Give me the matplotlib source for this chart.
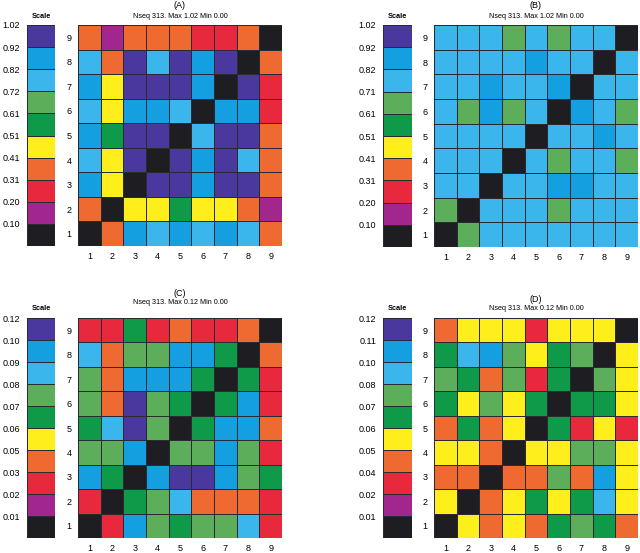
import numpy as np
import matplotlib
matplotlib.use("Agg")
import matplotlib.pyplot as plt
from matplotlib.colors import ListedColormap, BoundaryNorm

plt.rcParams['font.family'] = ['Liberation Sans', 'DejaVu Sans']

# colour levels: 0 black .. 9 indigo (lowest to highest)
level_colors = ['#1e1e22', '#a1268e', '#e8293d', '#ee6a30', '#fdee1c',
                '#0e9a48', '#5dae5a', '#3ab6ec', '#139fe0', '#4a389e']
K, M, R, O, Y, G, L, S, B, P = range(10)

# rows listed from top (9) to bottom (1), columns 1..9
grid_A = [
    [O, M, O, O, O, R, R, O, K],
    [S, O, P, S, P, B, P, K, O],
    [B, Y, P, P, P, B, K, P, R],
    [S, Y, B, B, S, K, B, B, R],
    [B, G, P, P, K, S, P, P, O],
    [S, Y, P, K, P, B, P, S, O],
    [B, Y, K, P, P, B, P, P, O],
    [O, K, Y, Y, G, Y, Y, O, M],
    [K, O, B, S, B, S, B, S, O],
]
grid_B = [
    [S, S, S, L, S, L, S, S, K],
    [S, S, S, S, B, S, S, K, S],
    [S, S, B, S, S, B, K, S, S],
    [S, L, B, L, S, K, B, S, L],
    [S, S, S, S, K, S, S, B, S],
    [S, S, S, K, S, L, S, S, L],
    [S, S, K, S, S, B, B, S, S],
    [L, K, S, S, S, L, S, S, S],
    [K, L, S, S, S, S, S, S, S],
]
grid_C = [
    [R, R, G, R, O, R, R, O, K],
    [S, O, L, L, B, B, G, K, O],
    [L, O, B, B, B, G, K, G, R],
    [L, O, P, L, G, K, G, B, R],
    [G, S, P, L, K, G, B, B, O],
    [L, L, B, K, L, L, B, L, R],
    [B, G, K, B, P, P, B, L, G],
    [R, K, G, L, S, O, O, O, R],
    [K, R, B, L, G, L, L, S, R],
]
grid_D = [
    [O, Y, Y, Y, R, Y, Y, Y, K],
    [G, S, B, L, Y, G, L, K, Y],
    [L, G, O, L, R, G, K, L, Y],
    [G, Y, L, Y, G, K, G, G, Y],
    [O, G, O, Y, K, G, R, Y, R],
    [Y, Y, O, K, Y, Y, L, L, Y],
    [O, O, K, O, O, L, O, B, Y],
    [Y, K, O, Y, G, Y, G, S, Y],
    [K, Y, O, Y, O, G, L, G, O],
]

# scale labels, bottom (black box top) to top
scale_A = ['0.10', '0.20', '0.31', '0.41', '0.51', '0.61', '0.72', '0.82', '0.92', '1.02']
scale_B = ['0.10', '0.20', '0.31', '0.41', '0.51', '0.61', '0.71', '0.82', '0.92', '1.02']
scale_C = ['0.01', '0.02', '0.03', '0.05', '0.06', '0.07', '0.08', '0.09', '0.10', '0.12']
scale_D = ['0.01', '0.02', '0.04', '0.05', '0.06', '0.07', '0.08', '0.10', '0.11', '0.12']

panel_letters = ['(A)', '(B)', '(C)', '(D)']
subtitles = ['Nseq 313. Max 1.02 Min 0.00', 'Nseq 313. Max 1.02 Min 0.00',
             'Nseq 313. Max 0.12 Min 0.00', 'Nseq 313. Max 0.12 Min 0.00']
tick_labels = [str(i) for i in range(1, 10)]

W, H = 640, 553
fig = plt.figure(figsize=(W / 100, H / 100), dpi=100)
fig.patch.set_facecolor('white')

cmap = ListedColormap(level_colors)
norm = BoundaryNorm(np.arange(-0.5, 10.5, 1), cmap.N)
edge = '#2a2a33'


def fx(px):
    return px / W


def fy(py):
    return 1 - py / H


# pixel layout: (scale x0, x1, grid x0, x1, top, bottom, letter y, subtitle y, scale-title y)
layouts = [
    (27, 55, 78, 282, 25, 246, 6, 17, 17),
    (383, 412, 434, 638, 25, 247, 6, 17, 17),
    (27, 55, 78, 282, 318, 538, 294, 303, 309),
    (383, 412, 434, 638, 318, 538, 299, 309, 309),
]
grids = [grid_A, grid_B, grid_C, grid_D]
scales = [scale_A, scale_B, scale_C, scale_D]

for k in range(4):
    sx0, sx1, gx0, gx1, top, bot, ly, sy, sty = layouts[k]
    data = np.array(grids[k])[::-1]  # row 1 at bottom

    ax = fig.add_axes([fx(gx0), fy(bot), fx(gx1 - gx0), (bot - top) / H])
    ax.pcolormesh(np.arange(0.5, 10.5), np.arange(0.5, 10.5), data,
                  cmap=cmap, norm=norm, edgecolors=edge, linewidth=0.6)
    ax.set_xlim(0.5, 9.5)
    ax.set_ylim(0.5, 9.5)
    ax.set_xticks(range(1, 10))
    ax.set_yticks(range(1, 10))
    ax.set_xticklabels(tick_labels, fontsize=6.5)
    ax.set_yticklabels(tick_labels, fontsize=6.5)
    ax.tick_params(length=0, pad=4.5)
    for s in ax.spines.values():
        s.set_visible(False)

    sax = fig.add_axes([fx(sx0), fy(bot), fx(sx1 - sx0), (bot - top) / H])
    sax.pcolormesh([0, 1], np.arange(0, 11), np.arange(10).reshape(10, 1),
                   cmap=cmap, norm=norm, edgecolors=edge, linewidth=0.6)
    sax.set_xlim(0, 1)
    sax.set_ylim(0, 10)
    sax.set_xticks([])
    sax.set_yticks(np.arange(1, 11))
    sax.set_yticklabels(scales[k], fontsize=6.5)
    sax.tick_params(length=0, pad=5)
    for s in sax.spines.values():
        s.set_visible(False)

    cx = (gx0 + gx1) / 2
    fig.text(fx(cx), fy(ly), panel_letters[k], ha='center', va='center', fontsize=6.5)
    fig.text(fx(cx), fy(sy), subtitles[k], ha='center', va='center', fontsize=5.2)
    fig.text(fx((sx0 + sx1) / 2), fy(sty), 'Scale', ha='center', va='center',
             fontsize=5.3, fontweight='bold')

fig.savefig('out.png', dpi=100, facecolor='white')
